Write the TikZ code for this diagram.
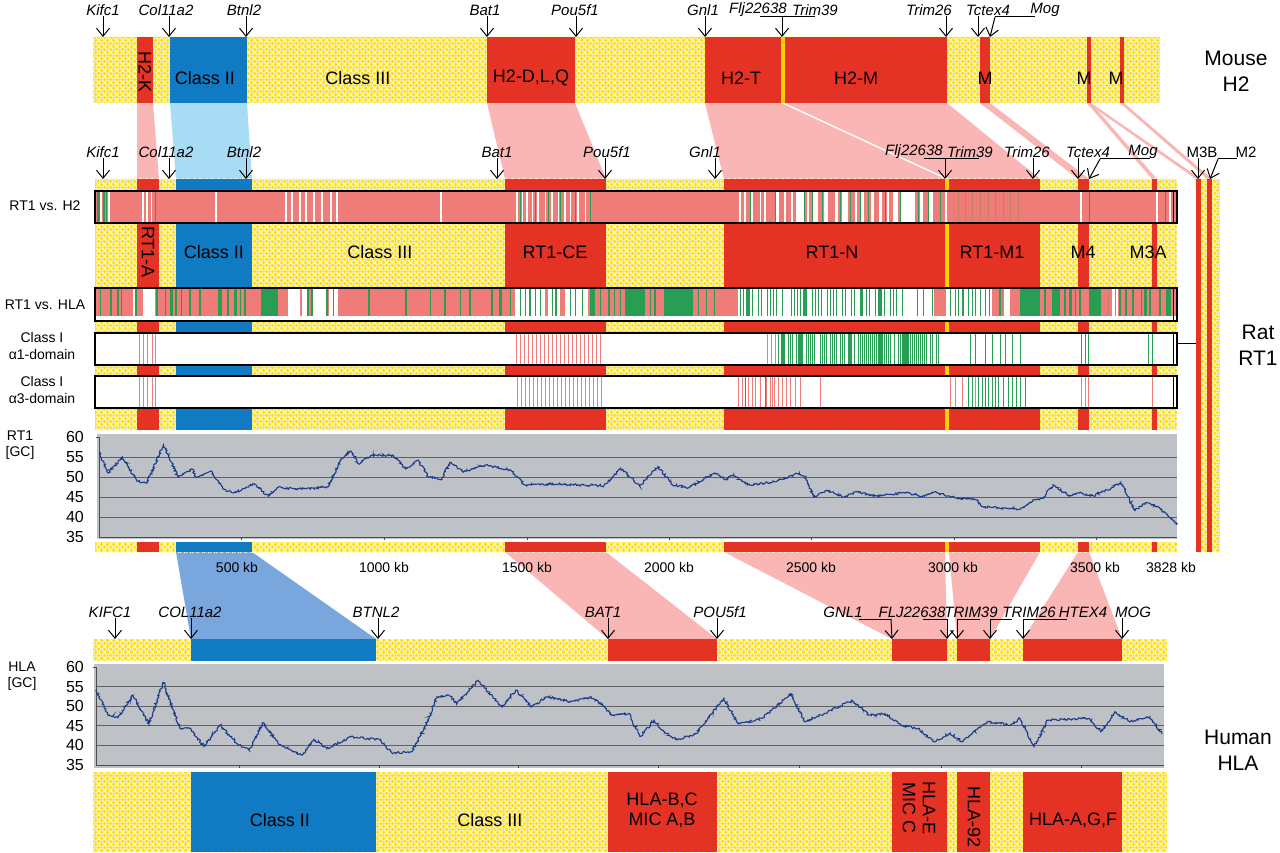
\documentclass[tikz,border=0pt]{standalone}
\usepackage{fontspec}
\setmainfont{Liberation Sans}
\usetikzlibrary{arrows.meta,patterns.meta,decorations.pathmorphing}
\definecolor{ylw}{RGB}{255,226,20}
\definecolor{ylwl}{RGB}{255,250,205}
\definecolor{red1}{RGB}{228,50,36}
\definecolor{blu}{RGB}{16,122,194}
\definecolor{lblu}{RGB}{168,220,244}
\definecolor{cblu}{RGB}{122,166,222}
\definecolor{pnk}{RGB}{250,182,180}
\definecolor{trk}{RGB}{240,124,122}
\definecolor{trkd}{RGB}{196,130,96}
\definecolor{grn}{RGB}{40,158,84}
\definecolor{gry}{RGB}{190,194,198}
\definecolor{gcl}{RGB}{28,58,140}
\definecolor{gold}{RGB}{255,208,0}
\tikzdeclarepattern{name=ydiam, type=uncolored,
  bounding box={(0pt,0pt) and (6pt,6pt)}, tile size={(6pt,6pt)},
  code={\draw[line width=1.1pt] (0pt,0pt)--(6pt,6pt) (0pt,6pt)--(6pt,0pt);}}
\newcommand\stripes[4]{\foreach \x/\w in {#4} {\fill[#1] (\x-\w/2,#2) rectangle (\x+\w/2,#3);}}
\newcommand\gstraight[6]{%
  \node[gene] (#1) at (#2,#3) {#4};
  \coordinate (#1t) at (#5,#6);
  \draw[garr] (#1.south -| #1t) -- (#1t);}
\newcommand\gbar[8]{%
  \node[gene] (#1) at (#2) {#3};
  \coordinate (#1a) at (#4,#6); \coordinate (#1b) at (#5,#6);
  \coordinate (#1s) at (#7,#6); \coordinate (#1t) at (#8);
  \draw[gline] (#1a) -- (#1b);
  \draw[garr] (#1s) -- (#1t);}
\newcommand\ratblocks[2]{%
  \fill[red1] (137,#1) rectangle (159,#2);
  \fill[blu] (176,#1) rectangle (252,#2);
  \fill[red1] (505,#1) rectangle (606,#2);
  \fill[red1] (724,#1) rectangle (945,#2);
  \fill[gold] (945,#1) rectangle (949,#2);
  \fill[red1] (949,#1) rectangle (1040,#2);
  \fill[red1] (1078,#1) rectangle (1089,#2);
  \fill[red1] (1152,#1) rectangle (1157,#2);}
\newcommand\humblocks[2]{%
  \fill[blu] (191,#1) rectangle (376,#2);
  \fill[red1] (608,#1) rectangle (717,#2);
  \fill[red1] (892,#1) rectangle (947,#2);
  \fill[red1] (957,#1) rectangle (990,#2);
  \fill[red1] (1023,#1) rectangle (1122,#2);}
\begin{document}
\begin{tikzpicture}[x=1pt,y=-1pt,
  ybar/.style={fill=ylw, postaction={pattern=ydiam, pattern color=ylwl}},
  gene/.style={font=\fontsize{15}{17}\selectfont\itshape, inner sep=0.5pt},
  lab/.style={font=\fontsize{18}{20}\selectfont, inner sep=0pt, align=center},
  trl/.style={font=\fontsize{14}{16.5}\selectfont, align=center, inner sep=0pt},
  big/.style={font=\fontsize{21}{26}\selectfont, align=center, inner sep=0pt},
  kb/.style={font=\fontsize{14}{16}\selectfont, inner sep=0pt},
  ax/.style={font=\fontsize{16}{18}\selectfont, anchor=east, inner sep=0pt},
  garr/.style={line width=1pt, -{Straight Barb[length=8pt,width=13pt]}},
  gline/.style={line width=1pt},
  gridl/.style={draw=black!62, line width=0.8pt},
  trkbox/.style={draw=black, line width=1.3pt},
  gcurve/.style={gcl, line width=1.1pt, decorate, decoration={random steps, segment length=1.2pt, amplitude=1.1pt}}]
\useasboundingbox (0,0) rectangle (1280,853);
\fill[white] (0,0) rectangle (1280,853);

% ---------- connectors mouse -> rat
\fill[pnk] (137,103) -- (153,103) -- (159,179) -- (137,179) -- cycle;
\fill[lblu] (170,103) -- (247,103) -- (252,179) -- (176,179) -- cycle;
\fill[pnk] (487,103) -- (575,103) -- (606,179) -- (505,179) -- cycle;
\fill[pnk] (705,103) -- (781,103) -- (945,179) -- (724,179) -- cycle;
\fill[pnk] (785,103) -- (947,103) -- (1040,179) -- (949,179) -- cycle;
\fill[pnk] (980,103) -- (990,103) -- (1089,179) -- (1078,179) -- cycle;
\fill[pnk] (1087,103) -- (1091,103) -- (1157,179) -- (1152,179) -- cycle;
\fill[pnk] (1087,103) -- (1091,103) -- (1201,179) -- (1196,179) -- cycle;
\fill[pnk] (1120,103) -- (1124,103) -- (1212,179) -- (1207,179) -- cycle;
% ---------- connectors rat -> human
\fill[cblu] (176,552) -- (252,552) -- (376,639) -- (191,639) -- cycle;
\fill[pnk] (505,552) -- (606,552) -- (717,639) -- (608,639) -- cycle;
\fill[pnk] (724,552) -- (945,552) -- (947,639) -- (892,639) -- cycle;
\fill[pnk] (949,552) -- (1040,552) -- (990,639) -- (957,639) -- cycle;
\fill[pnk] (1078,552) -- (1089,552) -- (1122,639) -- (1023,639) -- cycle;

% ---------- mouse H2 bar
\path[ybar] (93,37) rectangle (1160,103);
\fill[red1] (137,37) rectangle (153,103);
\fill[blu] (170,37) rectangle (247,103);
\fill[red1] (487,37) rectangle (575,103);
\fill[red1] (705,37) rectangle (781,103);
\fill[gold] (781,37) rectangle (785,103);
\fill[red1] (785,37) rectangle (947,103);
\fill[red1] (980,37) rectangle (990,103);
\fill[red1] (1087,37) rectangle (1091,103);
\fill[red1] (1120,37) rectangle (1124,103);
\node[lab, rotate=-90] (mh2k) at (145,72) {H2-K};
\node[lab] (mcl2) at (205,78) {Class II};
\node[lab] (mcl3) at (358,78) {Class III};
\node[lab] (mdlq) at (531,78) {H2-D,L,Q};
\node[lab] (mh2t) at (741,78) {H2-T};
\node[lab] (mh2m) at (856,78) {H2-M};
\node[lab] (mm1) at (985,78) {M};
\node[lab] (mm2) at (1084,78) {M};
\node[lab] (mm3) at (1116,78) {M};
\node[big] (mouse) at (1236,71) {Mouse\\H2};

% mouse genes
\gstraight{mg1}{103}{10}{Kifc1}{103}{37}
\gstraight{mg2}{166}{10}{Col11a2}{169}{37}
\gstraight{mg3}{244}{10}{Btnl2}{246}{37}
\gstraight{mg4}{485}{10}{Bat1}{487}{37}
\gstraight{mg5}{575}{10}{Pou5f1}{576}{37}
\gstraight{mg6}{703}{10}{Gnl1}{705}{37}
\node[gene] (mg7) at (758,10) {Flj22638};
\gbar{mg8}{815,10}{Trim39}{760}{815}{17}{782}{782,37}
\gstraight{mg9}{929}{10}{Trim26}{946}{37}
\gstraight{mg10}{988}{10}{Tctex4}{978}{37}
\gbar{mg11}{1045,10}{Mog}{995}{1035}{17}{995}{990,37}

% ---------- rat RT1 bar
\path[ybar] (95,179) rectangle (1177,430);
\ratblocks{179}{430}
\path[ybar] (95,542) rectangle (1177,552);
\ratblocks{542}{552}
\path[ybar] (1196,179) rectangle (1220,552);
\fill[red1] (1196,179) rectangle (1201,552);
\fill[red1] (1207,179) rectangle (1212,552);

\node[lab, rotate=-90] (rrta) at (148,252) {RT1-A};
\node[lab] (rcl2) at (214,252) {Class II};
\node[lab] (rcl3) at (380,252) {Class III};
\node[lab] (rce) at (555,252) {RT1-CE};
\node[lab] (rn) at (832,252) {RT1-N};
\node[lab] (rm1) at (992,252) {RT1-M1};
\node[lab] (rm4) at (1083,252) {M4};
\node[lab] (rm3a) at (1148,252) {M3A};

% rat genes
\gstraight{rg1}{103}{152}{Kifc1}{103}{179}
\gstraight{rg2}{166}{152}{Col11a2}{169}{179}
\gstraight{rg3}{244}{152}{Btnl2}{246}{179}
\gstraight{rg4}{497}{152}{Bat1}{497}{179}
\gstraight{rg5}{607}{152}{Pou5f1}{605}{179}
\gstraight{rg6}{705}{152}{Gnl1}{715}{179}
\node[gene] (rg7) at (914,152) {Flj22638};
\gbar{rg8}{970,152}{Trim39}{924}{979}{159}{945}{945,179}
\gstraight{rg9}{1027}{152}{Trim26}{1033}{179}
\gstraight{rg10}{1088}{152}{Tctex4}{1078}{179}
\gbar{rg11}{1143,152}{Mog}{1100}{1150}{159}{1100}{1089,179}
\gstraight{rg12}{1202}{152}{\upshape M3B}{1198}{179}
\gbar{rg13}{1246,152}{\upshape M2}{1218}{1237}{159}{1218}{1210,179}

% ---- track RT1 vs H2
\fill[white] (95,191) rectangle (1177,223);
\fill[trk] (96,192) rectangle (1176,222);
\stripes{white}{192}{222}{101/1.5,109/2,143/1.2,147/1.2,151/1,216/1.5,286/2,292/2,300/2.5,306/2,314/2.5,322/2,331/2,337/1.5,441/1.5,517/1.5,522/1,527/1.5,532/1,538/2,545/1,552/1.5,558/1,565/1.5,570/1,578/1.5,585/1,740/2,745/1.5,752/2,760/1,765/2,777/3,785/1.5,792/2,800/8,808/2,815/5,826/4,836/3,845/6,856/2,862/4,872/3,880/3,888/2,895/5,908/14,921/3,930/5,946/2,1081/2,1157/2,1170/2}
\stripes{grn}{192}{222}{98/3,104/2,106/1,155/1,520/0.8,535/0.8,548/0.8,560/1,575/0.8,590/0.8,750/0.8,775/0.8,804/1,812/1,822/0.8,840/1,850/0.8,860/1,868/0.8,885/1,900/0.8,918/1,928/0.8,940/0.8,1089/1,1165/1}
\stripes{trkd}{192}{222}{958/1,965/0.8,972/1,980/1,988/0.8,995/1,1003/0.8,1010/1,1018/0.8}
\draw[trkbox] (95,191) rectangle (1177,223);
\draw[line width=0.9pt] (1173,191) -- (1173,223);
\node[trl] (tl1) at (45,206) {RT1 vs. H2};

% ---- track RT1 vs HLA
\fill[white] (95,288) rectangle (1177,321);
\fill[trk] (96,289) rectangle (1176,316);
\foreach \a/\b in {133/136,143/155,288/300,302/308,313/326,329/338,515/545,548/560,565/588,738/934,946/992,1004/1010,1112/1118}
  {\fill[white] (\a,289) rectangle (\b,316);}
\stripes{grn}{289}{316}{100/1,111/1.5,118/2,121/1,136/2.5,157/2,165/1,171/3,176/2,181/1,190/2,200/1.5,220/4,228/2,235/3,240/1,245/2,269/17,308/1.5,312/1.5,327/2,333/1,369/2,406/2,430/1,445/2,460/1,470/1.5,492/2,500/3,510/1,520/1,525/1,530/1.5,535/1,540/1,552/1,556/2,570/1,575/1,582/1,592/5,600/1,609/2,614/1,620/1,632/15,642/6,650/1,655/2,678/29,698/1,706/1,714/1,950/1,955/1,958/1,963/1.5,968/1,972/1,975/1,980/1,985/1,989/1,1000/1.5,1030/20,1045/2,1056/8,1065/2,1070/3,1075/1,1080/2,1095/12,1120/2,1126/2,1133/2,1141/1,1145/3,1150/2,1160/2,1168/5}
\pgfmathsetseed{11}
\foreach \x in {740,743,...,932} {\pgfmathrandominteger{\r}{0}{9}
  \ifnum\r<6 \fill[grn] (\x,289) rectangle ++(1.3,27);\fi
  \ifnum\r=9 \fill[grn] (\x,289) rectangle ++(2.6,27);\fi}
\stripes{trkd}{289}{316}{1002/1,1108/1,1115/1}
\draw[trkbox] (95,288) rectangle (1177,321);
\draw[line width=0.9pt] (1173,288) -- (1173,321);
\node[trl] (tl2) at (45,305) {RT1 vs. HLA};

% ---- track alpha1
\fill[white] (95,333) rectangle (1177,365);
\stripes{trk}{334}{364}{139/0.8,143/0.8,147/0.8,152/0.8,155/0.8,767/0.8,771/0.8,775/0.8}
\foreach \x in {516,520,...,600} {\fill[trk] (\x,334) rectangle ++(0.8,30);}
\pgfmathsetseed{5}
\foreach \x in {778,780,...,938} {\pgfmathrandominteger{\r}{0}{9}
  \ifnum\r<7 \fill[grn] (\x,334) rectangle ++(0.9,30);\fi}
\stripes{grn}{334}{364}{782/3,800/4,850/3,880/3,905/5,970/0.9,975/0.9,985/0.9,992/0.9,1000/0.9,1005/0.9,1012/0.9,1020/0.9,1081/0.9,1085/0.9,1088/0.9,1148/0.9,1152/0.9}
\draw[trkbox] (95,333) rectangle (1177,365);
\draw[line width=0.9pt] (1173,333) -- (1173,365);
\node[trl] (tl3) at (42,346) {Class I\\α1-domain};

% ---- track alpha3
\fill[white] (95,376) rectangle (1177,408);
\stripes{trk}{377}{407}{139/0.8,143/0.8,147/0.8,152/0.8,155/0.8,738/0.8,742/0.8,748/0.8,752/0.8,755/0.8,760/0.8,766/0.8,770/0.8,772/0.8,774/0.8,778/0.8,782/0.8,786/0.8,790/0.8,795/0.8,800/0.8,820/0.8,950/0.8,955/0.8,962/0.8,975/0.8,1081/0.8,1085/0.8,1088/0.8,1152/0.8}
\foreach \x in {517,521,...,601} {\fill[trk] (\x,377) rectangle ++(0.8,30);}
\stripes{grn}{377}{407}{745/0.8,765/0.8,968/0.8,972/0.8,978/0.8,982/0.8,985/0.8,988/0.8,992/0.8,995/0.8,998/0.8,1003/0.8,1008/0.8,1012/0.8,1016/0.8,1020/0.8,1025/0.8}
\draw[trkbox] (95,376) rectangle (1177,408);
\draw[line width=0.9pt] (1173,376) -- (1173,408);
\node[trl] (tl4) at (42,390) {Class I\\α3-domain};

\coordinate (brk) at (1196,343);
\draw[line width=0.9pt] (1177,343) -- (brk);
\node[big] (rat) at (1258,345) {Rat\\RT1};

% ---- RT1 GC plot
\fill[gry] (97,434) rectangle (1177,539);
\foreach \g in {457,477,497,517} {\draw[gridl] (99,\g) -- (1177,\g);}
\draw[black!70, line width=0.9pt] (96,437) -- (99,437) -- (99,537) -- (1177,537);
\foreach \t in {241,384,527,669,811,954,1096} {\draw[black!70, line width=0.8pt] (\t,537) -- (\t,540);}
\begin{scope}[x=0.285pt, y=4pt, shift={(99pt,-677pt)}]
\pgfmathsetseed{3}
\draw[gcurve]
 plot coordinates {(0,56.3) (32,51) (82,55) (132,49) (168,48.5) (226,58) (277,50) (327,52) (340,50) (392,51.5) (435,47) (471,46) (500,46.7) (543,48.3) (594,45.2) (630,47.5) (687,47) (803,47.5) (846,54) (882,56.5) (911,53.3) (954,55.4) (1033,55.4) (1076,52) (1120,54.2) (1156,50) (1199,49.3) (1235,53.7) (1278,51.2) (1357,53) (1444,51.7) (1494,48) (1585,48.3) (1772,47.8) (1830,52.2) (1897,47.7) (1961,52.6) (2011,48.1) (2069,47.3) (2119,49.3) (2161,51) (2198,49.3) (2227,50.6) (2277,48) (2371,48.8) (2457,51) (2479,49.8) (2507,45) (2557,46.6) (2615,45) (2658,46.3) (2730,45.2) (2830,46.1) (2888,45) (2931,46.3) (3003,44.8) (3075,44.4) (3103,42.5) (3190,42.2) (3233,42) (3276,44.2) (3312,44.7) (3348,48) (3405,45.2) (3441,46) (3491,45.2) (3520,46.5) (3549,46.9) (3585,48.7) (3635,41.6) (3671,43.6) (3721,42.4) (3783,38.1)};
\end{scope}
\node[trl] (rgc) at (20,445) {RT1\\{}[GC]};
\node[ax] (r60) at (84,437) {60};
\node[ax] (r55) at (84,457) {55};
\node[ax] (r50) at (84,477) {50};
\node[ax] (r45) at (84,497) {45};
\node[ax] (r40) at (84,517) {40};
\node[ax] (r35) at (84,537) {35};

\node[kb] (k1) at (237,567) {500 kb};
\node[kb] (k2) at (384,567) {1000 kb};
\node[kb] (k3) at (527,567) {1500 kb};
\node[kb] (k4) at (669,567) {2000 kb};
\node[kb] (k5) at (811,567) {2500 kb};
\node[kb] (k6) at (953,567) {3000 kb};
\node[kb] (k7) at (1095,567) {3500 kb};
\node[kb] (k8) at (1171,567) {3828 kb};

% ---------- human HLA
\path[ybar] (93,639) rectangle (1167,661);
\humblocks{639}{661}
\path[ybar] (93,772) rectangle (1167,852);
\humblocks{772}{852}

\gstraight{hg1}{110}{612}{KIFC1}{115}{639}
\gstraight{hg2}{190}{612}{COL11a2}{191}{639}
\gstraight{hg3}{376}{612}{BTNL2}{378}{639}
\gstraight{hg4}{603}{612}{BAT1}{608}{639}
\gstraight{hg5}{720}{612}{POU5f1}{717}{639}
\gbar{hg6}{843,612}{GNL1}{859}{891}{619}{891}{892,639}
\gbar{hg7}{912,612}{FLJ22638}{923}{947}{619}{947}{947,639}
\gbar{hg8}{971,612}{TRIM39}{957}{980}{619}{957}{957,639}
\gbar{hg9}{1029,612}{TRIM26}{990}{1012}{619}{990}{990,639}
\gbar{hg10}{1083,612}{HTEX4}{1023}{1067}{619}{1023}{1023,639}
\gstraight{hg11}{1133}{612}{MOG}{1122}{639}

% HLA GC plot
\fill[gry] (94,664) rectangle (1164,768);
\foreach \g in {686.6,706.2,725.8,745.4} {\draw[gridl] (96,\g) -- (1164,\g);}
\draw[black!70, line width=0.9pt] (93,667) -- (96,667) -- (96,765) -- (1164,765);
\foreach \t in {239,379,518,658,799,941,1081} {\draw[black!70, line width=0.8pt] (\t,765) -- (\t,768);}
\begin{scope}[x=1pt, y=3.92pt, shift={(0pt,-902.2pt)}]
\pgfmathsetseed{9}
\draw[gcurve]
 plot coordinates {(96,54.1) (108,47.7) (118,47.1) (133,52.8) (149,45.4) (163,56.2) (180,44.3) (190,44.3) (204,39.7) (220,45.2) (237,40.5) (249,38.8) (263,45.8) (278,40.5) (302,37.5) (314,41.5) (327,39.2) (351,42.2) (380,41.4) (392,38) (412,38.4) (429,46.9) (437,52.4) (449,52.8) (457,50.7) (478,56.6) (502,49.8) (516,54.1) (531,49.8) (547,52.4) (571,51.1) (590,52.4) (604,50) (612,47.7) (629,48.1) (640,42.2) (654,46.4) (664,43.5) (677,41.4) (697,43.1) (701,44.7) (724,52) (738,45.6) (762,46.9) (791,53.2) (805,46) (828,48.6) (852,51.5) (869,47.7) (885,48.1) (901,45.2) (918,44.3) (934,40.9) (950,43.1) (962,40.9) (987,46) (1011,45.2) (1020,46.9) (1034,39.7) (1048,46.4) (1089,46.9) (1101,43.5) (1115,48.6) (1130,46) (1150,47.3) (1162,42.9)};
\end{scope}
\node[trl] (hgc) at (22,676) {HLA\\{}[GC]};
\node[ax] (h60) at (84,667) {60};
\node[ax] (h55) at (84,686.6) {55};
\node[ax] (h50) at (84,706.2) {50};
\node[ax] (h45) at (84,725.8) {45};
\node[ax] (h40) at (84,745.4) {40};
\node[ax] (h35) at (84,765) {35};

\node[lab] (hcl2) at (280,820) {Class II};
\node[lab] (hcl3) at (490,820) {Class III};
\node[lab] (hbc) at (662,810) {HLA-B,C\\MIC A,B};
\node[lab, rotate=-90] (he) at (919,808) {HLA-E\\MIC C};
\node[lab, rotate=-90] (h92) at (974,817) {HLA-92};
\node[lab] (hagf) at (1073,820) {HLA-A,G,F};
\node[big] (human) at (1238,750) {Human\\HLA};
\end{tikzpicture}
\end{document}
